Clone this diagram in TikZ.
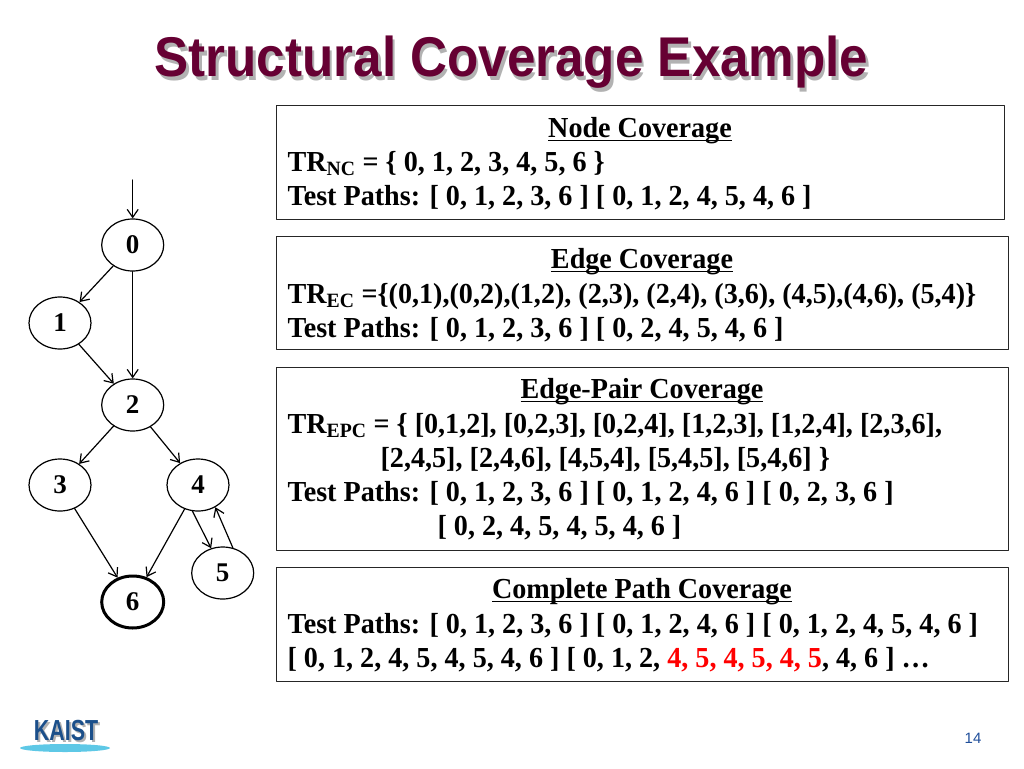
\documentclass[tikz,border=0pt]{standalone}
\usepackage{fontspec}
\setmainfont{Liberation Serif}[FakeStretch=0.97]
\newfontfamily\numfont{Liberation Serif}
\newfontfamily\titlefont{Liberation Sans}[FakeStretch=0.914]
\newfontfamily\logofont{Liberation Sans}[FakeStretch=0.74]
\newfontfamily\pagefont{Liberation Sans}
\usetikzlibrary{arrows.meta,shapes.geometric}
\definecolor{titlered}{HTML}{660033}
\definecolor{kaistblue}{HTML}{1B4F8A}
\definecolor{pageblue}{HTML}{1F4E9A}
\definecolor{swoosh}{HTML}{5EC8E6}
% underline close to the baseline, through the descenders
\newsavebox\headbox
\newcommand{\headline}[1]{\sbox\headbox{#1}\rlap{\rule[-4.2pt]{\wd\headbox}{1.4pt}}\usebox\headbox}
\tikzset{
  gnode/.style={draw, ellipse, line width=1.2pt, minimum width=62pt, minimum height=52pt,
    inner sep=0pt, font=\numfont\fontsize{27}{27}\selectfont\bfseries},
  covbox/.style={draw=black!85, line width=1pt, rectangle, inner sep=0pt},
  covtext/.style={anchor=base west, inner sep=0pt, font=\fontsize{29}{29}\selectfont\bfseries},
  covhead/.style={anchor=base, inner sep=0pt, font=\fontsize{29}{29}\selectfont\bfseries},
}
\begin{document}
\begin{tikzpicture}[x=1pt, y=-1pt, line width=1.2pt, line join=round, line cap=round,
  >={Straight Barb[length=8pt,width=11pt]}]
	\useasboundingbox (0,0) rectangle (1024,768);
	% title with its shadow
	\node[text=black!30, font=\titlefont\fontsize{56}{56}\selectfont\bfseries, anchor=base] (titleshade) at (514,80) {Structural Coverage Example};
	\node[text=titlered, font=\titlefont\fontsize{56}{56}\selectfont\bfseries, anchor=base] (title) at (511.5,77) {Structural Coverage Example};
	% graph
	\coordinate (in) at (132.7,180);
	\node[gnode] (n0) at (132.7,245) {0};
	\node[gnode] (n1) at (60,323) {1};
	\node[gnode] (n2) at (132.7,405) {2};
	\node[gnode] (n3) at (60,485) {3};
	\node[gnode] (n4) at (198,485) {4};
	\node[gnode] (n5) at (222.7,573) {5};
	\node[gnode, line width=3pt] (n6) at (132.7,602) {6};
	\draw[->] (in) -- (n0);
	\draw[->] (n0) -- (n1);
	\draw[->] (n0) -- (n2);
	\draw[->] (n1) -- (n2);
	\draw[->] (n2) -- (n3);
	\draw[->] (n2) -- (n4);
	\draw[->] (n3) -- (n6);
	\draw[->] (n4) -- (n6);
	\draw[->] (n4.258) -- (n5.115);
	\draw[->] (n5.68) -- (n4.308);
	% node coverage
	\node[covbox, minimum width=728pt, minimum height=114pt] (nc) at (640,162) {};
	\node[covhead] (nchead) at (640,137) {\headline{Node Coverage}};
	\node[covtext] (nctr) at (287,171) {TR\textsubscript{NC} = \{ 0, 1, 2, 3, 4, 5, 6 \}};
	\node[covtext] (nctp) at (287,205) {Test Paths: [ 0, 1, 2, 3, 6 ] [ 0, 1, 2, 4, 5, 4, 6 ]};
	% edge coverage
	\node[covbox, minimum width=732pt, minimum height=113pt] (ec) at (642,292.5) {};
	\node[covhead] (echead) at (642,268) {\headline{Edge Coverage}};
	\node[covtext] (ectr) at (287,303) {TR\textsubscript{EC} =\{(0,1),(0,2),(1,2), (2,3), (2,4), (3,6), (4,5),(4,6), (5,4)\}};
	\node[covtext] (ectp) at (287,337) {Test Paths: [ 0, 1, 2, 3, 6 ] [ 0, 2, 4, 5, 4, 6 ]};
	% edge-pair coverage
	\node[covbox, minimum width=732pt, minimum height=183pt] (epc) at (642,458.5) {};
	\node[covhead] (epchead) at (642,398) {\headline{Edge-Pair Coverage}};
	\node[covtext] (epctr) at (287,433) {TR\textsubscript{EPC} = \{ [0,1,2], [0,2,3], [0,2,4], [1,2,3], [1,2,4], [2,3,6],};
	\node[covtext] (epctrb) at (380,467) {[2,4,5], [2,4,6], [4,5,4], [5,4,5], [5,4,6] \}};
	\node[covtext] (epctp) at (287,501) {Test Paths: [ 0, 1, 2, 3, 6 ] [ 0, 1, 2, 4, 6 ] [ 0, 2, 3, 6 ]};
	\node[covtext] (epctpb) at (437,535) {[ 0, 2, 4, 5, 4, 5, 4, 6 ]};
	% complete path coverage
	\node[covbox, minimum width=732pt, minimum height=114pt] (cpc) at (642,624) {};
	\node[covhead] (cpchead) at (642,598) {\headline{Complete Path Coverage}};
	\node[covtext] (cpctp) at (287,633) {Test Paths: [ 0, 1, 2, 3, 6 ] [ 0, 1, 2, 4, 6 ] [ 0, 1, 2, 4, 5, 4, 6 ]};
	\node[covtext] (cpctpb) at (287,667) {[ 0, 1, 2, 4, 5, 4, 5, 4, 6 ] [ 0, 1, 2, \textcolor{red}{4, 5, 4, 5, 4, 5}, 4, 6 ] …};
	% logo and page number
	\fill[swoosh] (65,748) ellipse (45 and 4);
	\node[text=black!30, font=\logofont\fontsize{29}{29}\selectfont\bfseries, anchor=base] (logoshade) at (68,742) {KAIST};
	\node[text=kaistblue, font=\logofont\fontsize{29}{29}\selectfont\bfseries, anchor=base] (logo) at (66,740) {KAIST};
	\node[text=pageblue, font=\pagefont\fontsize{15}{15}\selectfont] (page) at (973,738) {14};
\end{tikzpicture}
\end{document}
